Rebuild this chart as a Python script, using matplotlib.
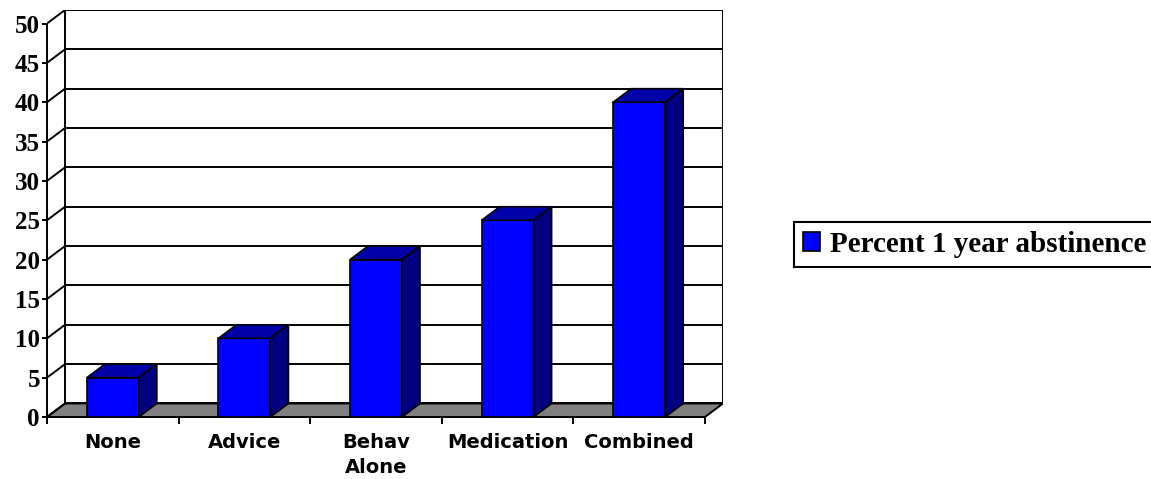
#仿Excel三维柱状图
import matplotlib
matplotlib.use('Agg')
import matplotlib.pyplot as plt
from matplotlib.patches import Polygon, Rectangle

#数据
categories = ['None', 'Advice', 'Behav\nAlone', 'Medication', 'Combined']
values = [5, 10, 20, 25, 40]
series_name = 'Percent 1 year abstinence'
yticks = list(range(0, 55, 5))

#颜色
front_col = '#0000FF'
top_col = '#0000A8'
side_col = '#000080'
floor_col = '#808080'

W, H = 1151, 479
fig = plt.figure(figsize=(W / 100, H / 100), dpi=100)
#坐标区：前平面 x 0..5, y 0..50，多出的部分用来画纵深
ax = fig.add_axes([47 / W, (H - 417) / H, (723 - 47) / W, (417 - 10) / H])
n = len(categories)
dx = 18 / 658 * n          #纵深在x方向的偏移
dy = 13.5 / 393 * 50       #纵深在y方向的偏移
ax.set_xlim(0, n + dx)
ax.set_ylim(0, 50 + dy)

lw = 1.4
#地板
ax.add_patch(Polygon([(0, 0), (n, 0), (n + dx, dy), (dx, dy)], closed=True,
                     facecolor=floor_col, edgecolor='black', lw=lw, zorder=1))
#背墙网格线和左墙斜线
for v in yticks:
    ax.plot([dx, n + dx], [v + dy, v + dy], color='black', lw=lw, zorder=2)
    ax.plot([0, dx], [v, v + dy], color='black', lw=lw, zorder=2)
ax.plot([dx, dx], [dy, 50 + dy], color='black', lw=lw, zorder=2)
ax.plot([n + dx, n + dx], [dy, 50 + dy], color='black', lw=lw, zorder=2)

#柱子
bw = 52 / 131.6
for i, v in enumerate(values):
    x0 = i + 0.5 - bw / 2
    x1 = x0 + bw
    ax.add_patch(Rectangle((x0, 0), bw, v, facecolor=front_col,
                           edgecolor='black', lw=1.2, zorder=3))
    ax.add_patch(Polygon([(x0, v), (x1, v), (x1 + dx, v + dy), (x0 + dx, v + dy)],
                         closed=True, facecolor=top_col, edgecolor='black',
                         lw=1.2, zorder=3))
    ax.add_patch(Polygon([(x1, 0), (x1 + dx, dy), (x1 + dx, v + dy), (x1, v)],
                         closed=True, facecolor=side_col, edgecolor='black',
                         lw=1.2, zorder=3))

#坐标轴
for s in ['top', 'right']:
    ax.spines[s].set_visible(False)
ax.spines['left'].set_bounds(0, 50)
ax.spines['bottom'].set_bounds(0, n)
ax.spines['left'].set_linewidth(lw)
ax.spines['bottom'].set_linewidth(lw)
ax.set_yticks(yticks)
ax.set_yticklabels([str(t) for t in yticks], family='Liberation Serif',
                   fontweight='bold', fontsize=18)
ax.tick_params(axis='y', length=3.6, width=lw, pad=1.5)
ax.set_xticks(range(n + 1))
ax.set_xticklabels([])
ax.tick_params(axis='x', which='major', length=5, width=lw)
ax.set_xticks([i + 0.5 for i in range(n)], minor=True)
labs = ax.set_xticklabels(categories, minor=True, family='DejaVu Sans',
                          fontweight='bold', fontsize=14)
for t in labs:
    t.set_linespacing(1.4)
ax.tick_params(axis='x', which='minor', length=0, pad=11.5)
ax.patch.set_visible(False)

#图例
handle = Rectangle((0, 0), 1, 1, facecolor=front_col, edgecolor='black', lw=1.2)
leg = fig.legend([handle], [series_name], loc='upper left',
                 bbox_to_anchor=(794 / W, 1 - 222 / H), borderaxespad=0,
                 fancybox=False, framealpha=1, edgecolor='black',
                 handlelength=0.6, handleheight=0.6, handletextpad=0.35,
                 borderpad=0.3,
                 prop={'family': 'Liberation Serif', 'weight': 'bold', 'size': 21})
leg.get_frame().set_linewidth(1.5)

fig.savefig('out.png', dpi=100)
